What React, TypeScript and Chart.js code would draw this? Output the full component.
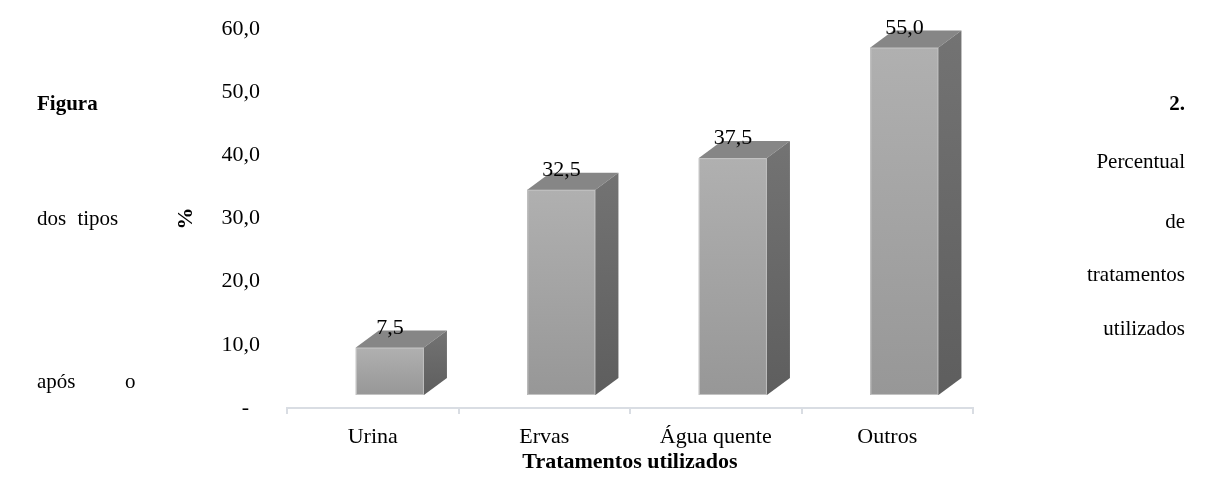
import React, { useEffect, useRef } from 'react';
import { Chart, registerables } from 'chart.js';

Chart.register(...registerables);

const categories = ['Urina', 'Ervas', 'Água quente', 'Outros'];
const values = [7.5, 32.5, 37.5, 55.0];
const yTickValues = [0, 10, 20, 30, 40, 50, 60];
const yAxisTitle = '%';
const xAxisTitle = 'Tratamentos utilizados';

const FONT = "'Liberation Serif', 'Times New Roman', serif";
const DX = 23;
const DY = 17;

const fmt = (v: number) => (v === 0 ? '-  ' : v.toFixed(1).replace('.', ','));

const bar3d = {
  id: 'bar3d',
  afterDatasetsDraw(chart: any) {
    const ctx: CanvasRenderingContext2D = chart.ctx;
    const meta = chart.getDatasetMeta(0);
    ctx.save();
    meta.data.forEach((el: any, i: number) => {
      const { x, y, base, width } = el.getProps(['x', 'y', 'base', 'width'], true);
      const l = x - width / 2;
      const r = x + width / 2;
      const gf = ctx.createLinearGradient(0, y, 0, base);
      gf.addColorStop(0, '#b0b0b0');
      gf.addColorStop(1, '#979797');
      ctx.fillStyle = gf;
      ctx.fillRect(l, y, width, base - y);
      ctx.strokeStyle = '#c4c4c4';
      ctx.lineWidth = 1;
      ctx.strokeRect(l + 0.5, y + 0.5, width - 1, base - y - 1);
      ctx.beginPath();
      ctx.moveTo(l, y);
      ctx.lineTo(l + DX, y - DY);
      ctx.lineTo(r + DX, y - DY);
      ctx.lineTo(r, y);
      ctx.closePath();
      ctx.fillStyle = '#868686';
      ctx.fill();
      const gs = ctx.createLinearGradient(0, y - DY, 0, base);
      gs.addColorStop(0, '#737373');
      gs.addColorStop(1, '#5e5e5e');
      ctx.beginPath();
      ctx.moveTo(r, y);
      ctx.lineTo(r + DX, y - DY);
      ctx.lineTo(r + DX, base - DY);
      ctx.lineTo(r, base);
      ctx.closePath();
      ctx.fillStyle = gs;
      ctx.fill();
      ctx.fillStyle = '#000';
      ctx.font = `22px ${FONT}`;
      ctx.textAlign = 'center';
      ctx.textBaseline = 'alphabetic';
      ctx.fillText(fmt(values[i]), x, y - DY + 3);
    });
    ctx.restore();
  },
};

const captionBase: React.CSSProperties = {
  position: 'absolute',
  fontFamily: FONT,
  fontSize: 21,
  lineHeight: '21px',
  color: '#000',
  whiteSpace: 'nowrap',
  transform: 'translateY(-50%)',
};

export default function App() {
  const ref = useRef<HTMLCanvasElement | null>(null);

  useEffect(() => {
    if (!ref.current) return;
    const chart = new Chart(ref.current, {
      type: 'bar',
      data: {
        labels: categories,
        datasets: [
          {
            data: values.map((v, i) => ({ x: i, y: v })),
            xAxisID: 'xb',
            yAxisID: 'yb',
            backgroundColor: '#a6a6a6',
            borderWidth: 0,
            barPercentage: 0.397,
            categoryPercentage: 1,
          } as any,
        ],
      },
      options: {
        animation: false,
        responsive: false,
        maintainAspectRatio: false,
        layout: { padding: { left: 170, right: 250, top: 29, bottom: 5 } },
        plugins: { legend: { display: false }, tooltip: { enabled: false } },
        scales: {
          x: {
            type: 'category',
            position: 'bottom',
            offset: true,
            grid: { offset: true, drawOnChartArea: false, drawTicks: true, tickLength: 6, color: '#d9dde3', lineWidth: 2 },
            border: { display: true, color: '#d9dde3', width: 2 },
            ticks: { color: '#000', font: { family: FONT, size: 22 }, padding: 10, maxRotation: 0 },
            title: { display: true, text: xAxisTitle, color: '#000', font: { family: FONT, size: 22, weight: 'bold' }, padding: { top: 0, bottom: 0 } },
            afterFit: (s: any) => { s.height = 68; s.paddingLeft = 0; s.paddingRight = 0; },
          },
          xb: {
            type: 'linear',
            display: false,
            offset: false,
            min: -0.5 - 0.1,
            max: 3.5 - 0.1,
            afterBuildTicks: (s: any) => { s.ticks = categories.map((_, i) => ({ value: i })); },
          },
          y: {
            type: 'linear',
            position: 'left',
            min: 0,
            max: 60,
            afterBuildTicks: (s: any) => { s.ticks = yTickValues.map((v) => ({ value: v })); },
            ticks: { color: '#000', font: { family: FONT, size: 22 }, padding: 27, callback: (v: any) => fmt(Number(v)) },
            grid: { display: false, drawTicks: false },
            border: { display: false },
            title: { display: true, text: yAxisTitle, color: '#000', font: { family: FONT, size: 22, weight: 'bold' }, padding: { top: 3, bottom: 0 } },
            afterFit: (s: any) => { s.width = 117; s.paddingTop = 0; s.paddingBottom = 0; },
          },
          yb: {
            type: 'linear',
            display: false,
            min: -2.06,
            max: 57.94,
          },
        },
      } as any,
      plugins: [bar3d],
    });
    return () => chart.destroy();
  }, []);

  return (
    <div style={{ position: 'fixed', left: 0, top: 0, width: 1223, height: 481, background: '#fff', overflow: 'hidden' }}>
      <canvas ref={ref} width={1223} height={481} style={{ position: 'absolute', left: 0, top: 0, width: 1223, height: 481 }} />
      <div style={{ ...captionBase, left: 37, top: 103, fontWeight: 'bold' }}>Figura</div>
      <div style={{ ...captionBase, right: 38, top: 103, fontWeight: 'bold' }}>2.</div>
      <div style={{ ...captionBase, right: 38, top: 161 }}>Percentual</div>
      <div style={{ ...captionBase, left: 37, top: 218, wordSpacing: 6 }}>dos tipos</div>
      <div style={{ ...captionBase, right: 38, top: 221 }}>de</div>
      <div style={{ ...captionBase, right: 38, top: 274 }}>tratamentos</div>
      <div style={{ ...captionBase, right: 38, top: 328 }}>utilizados</div>
      <div style={{ ...captionBase, left: 37, top: 381 }}>após</div>
      <div style={{ ...captionBase, left: 125, top: 381 }}>o</div>
    </div>
  );
}
